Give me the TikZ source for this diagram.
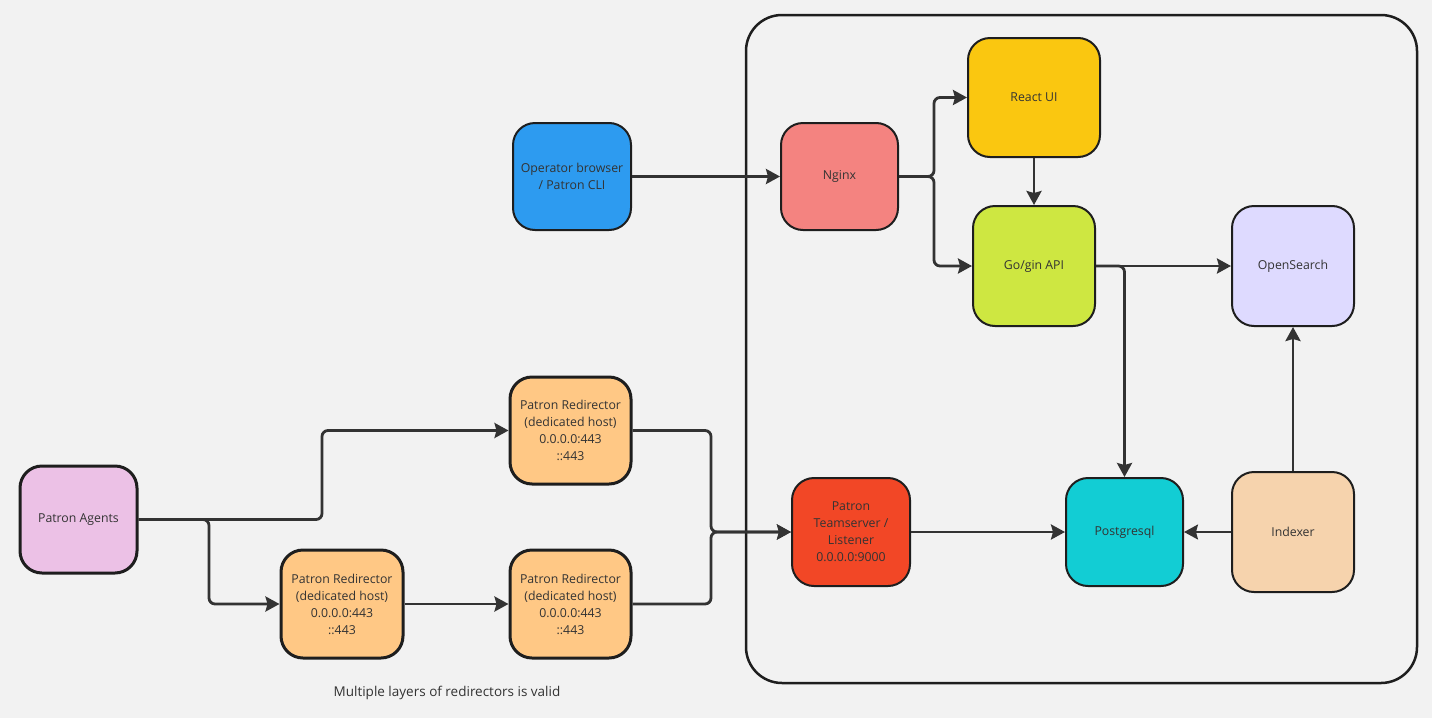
\documentclass[tikz,border=0pt]{standalone}
\usepackage{fontspec}
\setmainfont{Open Sans}
\usetikzlibrary{arrows.meta}
\definecolor{bgc}{HTML}{F2F2F2}
\definecolor{linec}{HTML}{333333}
\definecolor{edgec}{HTML}{1E1E1E}
\definecolor{opc}{HTML}{2D9BF0}
\definecolor{ngc}{HTML}{F48380}
\definecolor{rec}{HTML}{FAC710}
\definecolor{goc}{HTML}{CEE741}
\definecolor{osc}{HTML}{DEDAFF}
\definecolor{agc}{HTML}{ECC1E6}
\definecolor{rdc}{HTML}{FFC885}
\definecolor{tsc}{HTML}{F24726}
\definecolor{pgc}{HTML}{12CDD4}
\definecolor{ixc}{HTML}{F6D3AD}
\tikzset{
  box/.style={draw=edgec, line width=2pt, rounded corners=22pt, align=center,
    inner sep=0pt, font=\fontsize{12.3}{17}\selectfont, text=linec},
  thick box/.style={box, line width=3pt},
  conn/.style={draw=linec, line width=2.8pt, rounded corners=6pt,
    -{Stealth[length=14pt,width=15pt,inset=2pt]}},
  thinconn/.style={conn, line width=1.6pt}
}
\begin{document}
\begin{tikzpicture}[x=1pt,y=-1pt]
\fill[bgc] (0,0) rectangle (1432,718);
\useasboundingbox (0,0) rectangle (1432,718);
% container
\node[draw=edgec, line width=2.5pt, rounded corners=36pt, minimum width=671pt, minimum height=668pt, inner sep=0pt] (cont) at (1081.5,349) {};
% nodes
\node[box, fill=opc, minimum width=118pt, minimum height=107pt] (op) at (572,176.5) {Operator browser\\/ Patron CLI};
\node[box, fill=ngc, minimum width=117pt, minimum height=107pt] (ng) at (839.5,176.5) {Nginx};
\node[box, fill=rec, minimum width=132pt, minimum height=119pt] (re) at (1034,97.5) {React UI};
\node[box, fill=goc, minimum width=122pt, minimum height=120pt] (go) at (1034,266) {Go/gin API};
\node[box, fill=osc, minimum width=122pt, minimum height=120pt] (os) at (1293,266) {OpenSearch};
\node[thick box, fill=agc, minimum width=117pt, minimum height=107pt] (ag) at (78.5,519.5) {Patron Agents};
\node[thick box, fill=rdc, minimum width=121pt, minimum height=107pt] (rt) at (570.5,430.5) {Patron Redirector\\(dedicated host)\\0.0.0.0:443\\::443};
\node[thick box, fill=rdc, minimum width=122pt, minimum height=108pt] (rbl) at (342,604) {Patron Redirector\\(dedicated host)\\0.0.0.0:443\\::443};
\node[thick box, fill=rdc, minimum width=121pt, minimum height=108pt] (rbr) at (570.5,604) {Patron Redirector\\(dedicated host)\\0.0.0.0:443\\::443};
\node[box, fill=tsc, minimum width=118pt, minimum height=108pt] (ts) at (851,532) {Patron\\Teamserver /\\Listener\\0.0.0.0:9000};
\node[box, fill=pgc, minimum width=117pt, minimum height=108pt] (pg) at (1124.5,532) {Postgresql};
\node[box, fill=ixc, minimum width=122pt, minimum height=120pt] (ix) at (1293,532) {Indexer};
\node[font=\fontsize{13.5}{16}\selectfont, text=linec] (lbl) at (447,693) {Multiple layers of redirectors is valid};
% junctions
\coordinate (jn) at (934,176.5);
\coordinate (ja) at (322,519.5);
\coordinate (jb) at (209,519.5);
\coordinate (jt) at (711,430.5);
\coordinate (jr) at (711,604);
% connectors
\draw[conn] (op.east) -- (ng.west);
\draw[conn] (ng.east) -- (jn) |- (re.west);
\draw[conn] (ng.east) -- (jn) |- (go.west);
\draw[conn] (re.south) -- (go.north);
\draw[conn] (go.east) -- (os.west);
\draw[conn] (go.east) -| (pg.north);
\draw[conn] (ix.north) -- (os.south);
\draw[thinconn] (ix.west) -- (pg.east);
\draw[conn] (ts.east) -- (pg.west);
\draw[conn] (ag.east) -- (ja) |- (rt.west);
\draw[conn] (ag.east) -- (jb) |- (rbl.west);
\draw[conn] (rbl.east) -- (rbr.west);
\draw[conn] (rt.east) -- (jt) |- (ts.west);
\draw[conn] (rbr.east) -- (jr) |- (ts.west);
\end{tikzpicture}
\end{document}
